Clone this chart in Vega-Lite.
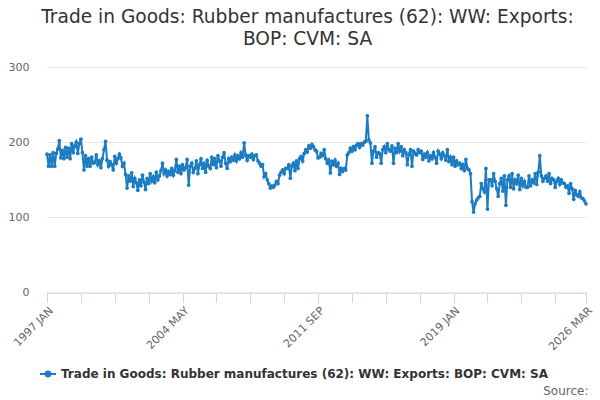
{
  "$schema": "https://vega.github.io/schema/vega-lite/v6.json",
  "width": 539,
  "height": 225.5,
  "autosize": "none",
  "padding": {"left": 47, "top": 67, "right": 14, "bottom": 107.5},
  "background": "#ffffff",
  "title": {
    "text": ["Trade in Goods: Rubber manufactures (62): WW: Exports:", "BOP: CVM: SA"],
    "font": "DejaVu Sans",
    "fontSize": 18.6,
    "fontWeight": "normal",
    "color": "#333333",
    "anchor": "middle",
    "dx": -9,
    "offset": 12,
    "lineHeight": 22
  },
  "config": {
    "view": {"stroke": null},
    "font": "DejaVu Sans"
  },
  "data": {
    "values": [
      {"month": "1997 JAN", "value": 184}, {"month": "1997 FEB", "value": 168}, {"month": "1997 MAR", "value": 183}, {"month": "1997 APR", "value": 168},
      {"month": "1997 MAY", "value": 186}, {"month": "1997 JUN", "value": 168}, {"month": "1997 JUL", "value": 185}, {"month": "1997 AUG", "value": 191},
      {"month": "1997 SEP", "value": 202}, {"month": "1997 OCT", "value": 179}, {"month": "1997 NOV", "value": 189}, {"month": "1997 DEC", "value": 178},
      {"month": "1998 JAN", "value": 193}, {"month": "1998 FEB", "value": 180}, {"month": "1998 MAR", "value": 192}, {"month": "1998 APR", "value": 178},
      {"month": "1998 MAY", "value": 198}, {"month": "1998 JUN", "value": 186}, {"month": "1998 JUL", "value": 195}, {"month": "1998 AUG", "value": 200},
      {"month": "1998 SEP", "value": 185}, {"month": "1998 OCT", "value": 198}, {"month": "1998 NOV", "value": 204}, {"month": "1998 DEC", "value": 186},
      {"month": "1999 JAN", "value": 163}, {"month": "1999 FEB", "value": 182}, {"month": "1999 MAR", "value": 168}, {"month": "1999 APR", "value": 178},
      {"month": "1999 MAY", "value": 168}, {"month": "1999 JUN", "value": 180}, {"month": "1999 JUL", "value": 172}, {"month": "1999 AUG", "value": 173},
      {"month": "1999 SEP", "value": 183}, {"month": "1999 OCT", "value": 170}, {"month": "1999 NOV", "value": 175}, {"month": "1999 DEC", "value": 166},
      {"month": "2000 JAN", "value": 178}, {"month": "2000 FEB", "value": 190}, {"month": "2000 MAR", "value": 201}, {"month": "2000 APR", "value": 176},
      {"month": "2000 MAY", "value": 168}, {"month": "2000 JUN", "value": 174}, {"month": "2000 JUL", "value": 170}, {"month": "2000 AUG", "value": 163},
      {"month": "2000 SEP", "value": 181}, {"month": "2000 OCT", "value": 172}, {"month": "2000 NOV", "value": 178}, {"month": "2000 DEC", "value": 184},
      {"month": "2001 JAN", "value": 179}, {"month": "2001 FEB", "value": 168}, {"month": "2001 MAR", "value": 172}, {"month": "2001 APR", "value": 157},
      {"month": "2001 MAY", "value": 139}, {"month": "2001 JUN", "value": 155}, {"month": "2001 JUL", "value": 148}, {"month": "2001 AUG", "value": 159},
      {"month": "2001 SEP", "value": 141}, {"month": "2001 OCT", "value": 152}, {"month": "2001 NOV", "value": 146}, {"month": "2001 DEC", "value": 136},
      {"month": "2002 JAN", "value": 150}, {"month": "2002 FEB", "value": 142}, {"month": "2002 MAR", "value": 156}, {"month": "2002 APR", "value": 147},
      {"month": "2002 MAY", "value": 137}, {"month": "2002 JUN", "value": 152}, {"month": "2002 JUL", "value": 145}, {"month": "2002 AUG", "value": 158},
      {"month": "2002 SEP", "value": 148}, {"month": "2002 OCT", "value": 154}, {"month": "2002 NOV", "value": 146}, {"month": "2002 DEC", "value": 160},
      {"month": "2003 JAN", "value": 150}, {"month": "2003 FEB", "value": 155}, {"month": "2003 MAR", "value": 162}, {"month": "2003 APR", "value": 172},
      {"month": "2003 MAY", "value": 158}, {"month": "2003 JUN", "value": 163}, {"month": "2003 JUL", "value": 155}, {"month": "2003 AUG", "value": 161},
      {"month": "2003 SEP", "value": 157}, {"month": "2003 OCT", "value": 165}, {"month": "2003 NOV", "value": 156}, {"month": "2003 DEC", "value": 162},
      {"month": "2004 JAN", "value": 177}, {"month": "2004 FEB", "value": 160}, {"month": "2004 MAR", "value": 168}, {"month": "2004 APR", "value": 158},
      {"month": "2004 MAY", "value": 170}, {"month": "2004 JUN", "value": 163}, {"month": "2004 JUL", "value": 166}, {"month": "2004 AUG", "value": 177},
      {"month": "2004 SEP", "value": 143}, {"month": "2004 OCT", "value": 168}, {"month": "2004 NOV", "value": 172}, {"month": "2004 DEC", "value": 160},
      {"month": "2005 JAN", "value": 165}, {"month": "2005 FEB", "value": 175}, {"month": "2005 MAR", "value": 158}, {"month": "2005 APR", "value": 170},
      {"month": "2005 MAY", "value": 178}, {"month": "2005 JUN", "value": 165}, {"month": "2005 JUL", "value": 172}, {"month": "2005 AUG", "value": 160},
      {"month": "2005 SEP", "value": 176}, {"month": "2005 OCT", "value": 168}, {"month": "2005 NOV", "value": 165}, {"month": "2005 DEC", "value": 180},
      {"month": "2006 JAN", "value": 170}, {"month": "2006 FEB", "value": 178}, {"month": "2006 MAR", "value": 166}, {"month": "2006 APR", "value": 182},
      {"month": "2006 MAY", "value": 175}, {"month": "2006 JUN", "value": 168}, {"month": "2006 JUL", "value": 180}, {"month": "2006 AUG", "value": 186},
      {"month": "2006 SEP", "value": 172}, {"month": "2006 OCT", "value": 165}, {"month": "2006 NOV", "value": 178}, {"month": "2006 DEC", "value": 174},
      {"month": "2007 JAN", "value": 180}, {"month": "2007 FEB", "value": 176}, {"month": "2007 MAR", "value": 183}, {"month": "2007 APR", "value": 175},
      {"month": "2007 MAY", "value": 182}, {"month": "2007 JUN", "value": 178}, {"month": "2007 JUL", "value": 186}, {"month": "2007 AUG", "value": 180},
      {"month": "2007 SEP", "value": 199}, {"month": "2007 OCT", "value": 183}, {"month": "2007 NOV", "value": 176}, {"month": "2007 DEC", "value": 182},
      {"month": "2008 JAN", "value": 180}, {"month": "2008 FEB", "value": 184}, {"month": "2008 MAR", "value": 177}, {"month": "2008 APR", "value": 182},
      {"month": "2008 MAY", "value": 183}, {"month": "2008 JUN", "value": 175}, {"month": "2008 JUL", "value": 172}, {"month": "2008 AUG", "value": 168},
      {"month": "2008 SEP", "value": 170}, {"month": "2008 OCT", "value": 154}, {"month": "2008 NOV", "value": 158}, {"month": "2008 DEC", "value": 150},
      {"month": "2009 JAN", "value": 145}, {"month": "2009 FEB", "value": 139}, {"month": "2009 MAR", "value": 142}, {"month": "2009 APR", "value": 140},
      {"month": "2009 MAY", "value": 143}, {"month": "2009 JUN", "value": 148}, {"month": "2009 JUL", "value": 145}, {"month": "2009 AUG", "value": 156},
      {"month": "2009 SEP", "value": 160}, {"month": "2009 OCT", "value": 163}, {"month": "2009 NOV", "value": 158}, {"month": "2009 DEC", "value": 165},
      {"month": "2010 JAN", "value": 165}, {"month": "2010 FEB", "value": 170}, {"month": "2010 MAR", "value": 152}, {"month": "2010 APR", "value": 168},
      {"month": "2010 MAY", "value": 172}, {"month": "2010 JUN", "value": 162}, {"month": "2010 JUL", "value": 175}, {"month": "2010 AUG", "value": 165},
      {"month": "2010 SEP", "value": 178}, {"month": "2010 OCT", "value": 181}, {"month": "2010 NOV", "value": 175}, {"month": "2010 DEC", "value": 185},
      {"month": "2011 JAN", "value": 190}, {"month": "2011 FEB", "value": 187}, {"month": "2011 MAR", "value": 195}, {"month": "2011 APR", "value": 192},
      {"month": "2011 MAY", "value": 197}, {"month": "2011 JUN", "value": 194}, {"month": "2011 JUL", "value": 190}, {"month": "2011 AUG", "value": 188},
      {"month": "2011 SEP", "value": 179}, {"month": "2011 OCT", "value": 180}, {"month": "2011 NOV", "value": 185}, {"month": "2011 DEC", "value": 182},
      {"month": "2012 JAN", "value": 190}, {"month": "2012 FEB", "value": 178}, {"month": "2012 MAR", "value": 172}, {"month": "2012 APR", "value": 176},
      {"month": "2012 MAY", "value": 159}, {"month": "2012 JUN", "value": 174}, {"month": "2012 JUL", "value": 170}, {"month": "2012 AUG", "value": 176},
      {"month": "2012 SEP", "value": 168}, {"month": "2012 OCT", "value": 172}, {"month": "2012 NOV", "value": 157}, {"month": "2012 DEC", "value": 165},
      {"month": "2013 JAN", "value": 161}, {"month": "2013 FEB", "value": 165}, {"month": "2013 MAR", "value": 163}, {"month": "2013 APR", "value": 183},
      {"month": "2013 MAY", "value": 186}, {"month": "2013 JUN", "value": 192}, {"month": "2013 JUL", "value": 188}, {"month": "2013 AUG", "value": 194},
      {"month": "2013 SEP", "value": 190}, {"month": "2013 OCT", "value": 196}, {"month": "2013 NOV", "value": 198}, {"month": "2013 DEC", "value": 193},
      {"month": "2014 JAN", "value": 198}, {"month": "2014 FEB", "value": 196}, {"month": "2014 MAR", "value": 200}, {"month": "2014 APR", "value": 201},
      {"month": "2014 MAY", "value": 235}, {"month": "2014 JUN", "value": 203}, {"month": "2014 JUL", "value": 199}, {"month": "2014 AUG", "value": 172},
      {"month": "2014 SEP", "value": 188}, {"month": "2014 OCT", "value": 194}, {"month": "2014 NOV", "value": 180}, {"month": "2014 DEC", "value": 186},
      {"month": "2015 JAN", "value": 185}, {"month": "2015 FEB", "value": 172}, {"month": "2015 MAR", "value": 190}, {"month": "2015 APR", "value": 194},
      {"month": "2015 MAY", "value": 186}, {"month": "2015 JUN", "value": 198}, {"month": "2015 JUL", "value": 190}, {"month": "2015 AUG", "value": 188},
      {"month": "2015 SEP", "value": 195}, {"month": "2015 OCT", "value": 172}, {"month": "2015 NOV", "value": 192}, {"month": "2015 DEC", "value": 186},
      {"month": "2016 JAN", "value": 198}, {"month": "2016 FEB", "value": 188}, {"month": "2016 MAR", "value": 194}, {"month": "2016 APR", "value": 182},
      {"month": "2016 MAY", "value": 190}, {"month": "2016 JUN", "value": 186}, {"month": "2016 JUL", "value": 170}, {"month": "2016 AUG", "value": 184},
      {"month": "2016 SEP", "value": 190}, {"month": "2016 OCT", "value": 168}, {"month": "2016 NOV", "value": 188}, {"month": "2016 DEC", "value": 185},
      {"month": "2017 JAN", "value": 183}, {"month": "2017 FEB", "value": 190}, {"month": "2017 MAR", "value": 186}, {"month": "2017 APR", "value": 188},
      {"month": "2017 MAY", "value": 177}, {"month": "2017 JUN", "value": 184}, {"month": "2017 JUL", "value": 180}, {"month": "2017 AUG", "value": 186},
      {"month": "2017 SEP", "value": 175}, {"month": "2017 OCT", "value": 182}, {"month": "2017 NOV", "value": 178}, {"month": "2017 DEC", "value": 186},
      {"month": "2018 JAN", "value": 180}, {"month": "2018 FEB", "value": 172}, {"month": "2018 MAR", "value": 188}, {"month": "2018 APR", "value": 184},
      {"month": "2018 MAY", "value": 178}, {"month": "2018 JUN", "value": 186}, {"month": "2018 JUL", "value": 182}, {"month": "2018 AUG", "value": 176},
      {"month": "2018 SEP", "value": 190}, {"month": "2018 OCT", "value": 174}, {"month": "2018 NOV", "value": 180}, {"month": "2018 DEC", "value": 170},
      {"month": "2019 JAN", "value": 180}, {"month": "2019 FEB", "value": 168}, {"month": "2019 MAR", "value": 175}, {"month": "2019 APR", "value": 170},
      {"month": "2019 MAY", "value": 172}, {"month": "2019 JUN", "value": 165}, {"month": "2019 JUL", "value": 170}, {"month": "2019 AUG", "value": 162},
      {"month": "2019 SEP", "value": 177}, {"month": "2019 OCT", "value": 165}, {"month": "2019 NOV", "value": 163}, {"month": "2019 DEC", "value": 158},
      {"month": "2020 JAN", "value": 121}, {"month": "2020 FEB", "value": 107}, {"month": "2020 MAR", "value": 118}, {"month": "2020 APR", "value": 123},
      {"month": "2020 MAY", "value": 126}, {"month": "2020 JUN", "value": 128}, {"month": "2020 JUL", "value": 145}, {"month": "2020 AUG", "value": 138},
      {"month": "2020 SEP", "value": 134}, {"month": "2020 OCT", "value": 165}, {"month": "2020 NOV", "value": 111}, {"month": "2020 DEC", "value": 150},
      {"month": "2021 JAN", "value": 150}, {"month": "2021 FEB", "value": 142}, {"month": "2021 MAR", "value": 158}, {"month": "2021 APR", "value": 148},
      {"month": "2021 MAY", "value": 138}, {"month": "2021 JUN", "value": 128}, {"month": "2021 JUL", "value": 145}, {"month": "2021 AUG", "value": 152},
      {"month": "2021 SEP", "value": 135}, {"month": "2021 OCT", "value": 155}, {"month": "2021 NOV", "value": 116}, {"month": "2021 DEC", "value": 150},
      {"month": "2022 JAN", "value": 155}, {"month": "2022 FEB", "value": 140}, {"month": "2022 MAR", "value": 158}, {"month": "2022 APR", "value": 138},
      {"month": "2022 MAY", "value": 150}, {"month": "2022 JUN", "value": 145}, {"month": "2022 JUL", "value": 156}, {"month": "2022 AUG", "value": 137},
      {"month": "2022 SEP", "value": 152}, {"month": "2022 OCT", "value": 142}, {"month": "2022 NOV", "value": 148}, {"month": "2022 DEC", "value": 140},
      {"month": "2023 JAN", "value": 140}, {"month": "2023 FEB", "value": 155}, {"month": "2023 MAR", "value": 142}, {"month": "2023 APR", "value": 150},
      {"month": "2023 MAY", "value": 146}, {"month": "2023 JUN", "value": 158}, {"month": "2023 JUL", "value": 144}, {"month": "2023 AUG", "value": 160},
      {"month": "2023 SEP", "value": 182}, {"month": "2023 OCT", "value": 155}, {"month": "2023 NOV", "value": 148}, {"month": "2023 DEC", "value": 152},
      {"month": "2024 JAN", "value": 155}, {"month": "2024 FEB", "value": 148}, {"month": "2024 MAR", "value": 158}, {"month": "2024 APR", "value": 145},
      {"month": "2024 MAY", "value": 152}, {"month": "2024 JUN", "value": 150}, {"month": "2024 JUL", "value": 140}, {"month": "2024 AUG", "value": 148},
      {"month": "2024 SEP", "value": 152}, {"month": "2024 OCT", "value": 144}, {"month": "2024 NOV", "value": 150}, {"month": "2024 DEC", "value": 146},
      {"month": "2025 JAN", "value": 145}, {"month": "2025 FEB", "value": 140}, {"month": "2025 MAR", "value": 142}, {"month": "2025 APR", "value": 132},
      {"month": "2025 MAY", "value": 145}, {"month": "2025 JUN", "value": 138}, {"month": "2025 JUL", "value": 124}, {"month": "2025 AUG", "value": 136},
      {"month": "2025 SEP", "value": 130}, {"month": "2025 OCT", "value": 128}, {"month": "2025 NOV", "value": 134}, {"month": "2025 DEC", "value": 126},
      {"month": "2026 JAN", "value": 125}, {"month": "2026 FEB", "value": 122}, {"month": "2026 MAR", "value": 118}
    ]
  },
  "mark": {
    "type": "line",
    "strokeWidth": 2,
    "point": {"filled": true, "size": 14}
  },
  "encoding": {
    "x": {
      "field": "month",
      "type": "ordinal",
      "sort": null,
      "scale": {"type": "point", "padding": 0},
      "axis": {
        "values": ["1997 JAN", "1998 NOV", "2000 SEP", "2002 JUL", "2004 MAY", "2006 MAR", "2008 JAN", "2009 NOV", "2011 SEP", "2013 JUL", "2015 MAY", "2017 MAR", "2019 JAN", "2020 NOV", "2022 SEP", "2024 JUL", "2026 MAR"],
        "labelExpr": "indexof(['1997 JAN', '2004 MAY', '2011 SEP', '2019 JAN', '2026 MAR'], datum.value) >= 0 ? datum.value : ''",
        "labelAngle": -45,
        "labelFont": "DejaVu Sans",
        "labelFontSize": 11,
        "labelColor": "#666666",
        "labelPadding": 2,
        "labelOverlap": false,
        "labelBound": false,
        "domainColor": "#ccd6eb",
        "tickColor": "#ccd6eb",
        "tickSize": 10,
        "grid": false,
        "title": "Source:",
        "titleFont": "DejaVu Sans",
        "titleFontSize": 12,
        "titleFontWeight": "normal",
        "titleColor": "#666666",
        "titleAnchor": "end",
        "titleAlign": "right",
        "titleBaseline": "alphabetic",
        "titleX": 541,
        "titleY": 102
      }
    },
    "y": {
      "field": "value",
      "type": "quantitative",
      "scale": {"domain": [0, 300], "nice": false},
      "axis": {
        "values": [0, 100, 200, 300],
        "title": null,
        "grid": true,
        "gridColor": "#e6e6e6",
        "domain": false,
        "ticks": false,
        "labelPadding": 18,
        "labelFont": "DejaVu Sans",
        "labelFontSize": 11,
        "labelColor": "#666666"
      }
    },
    "color": {
      "datum": "Trade in Goods: Rubber manufactures (62): WW: Exports: BOP: CVM: SA",
      "scale": {"range": ["#1c7cc3"]},
      "legend": {
        "title": null,
        "orient": "none",
        "legendX": -8,
        "legendY": 298,
        "labelFont": "DejaVu Sans",
        "labelFontSize": 12,
        "labelFontWeight": "bold",
        "labelColor": "#333333",
        "labelLimit": 700,
        "symbolType": "M-1,0L1,0M-0.3,0a0.3,0.3 0 1,0 0.6,0a0.3,0.3 0 1,0 -0.6,0",
        "symbolSize": 256,
        "symbolStrokeWidth": 2,
        "symbolFillColor": "#1c7cc3",
        "symbolStrokeColor": "#1c7cc3"
      }
    }
  }
}
